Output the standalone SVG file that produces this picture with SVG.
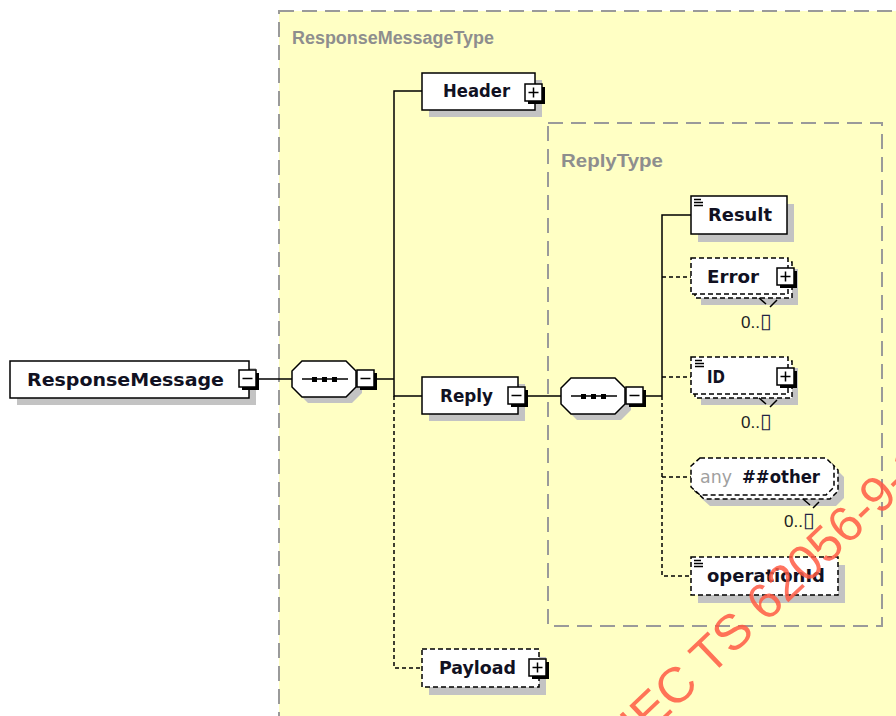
<svg xmlns="http://www.w3.org/2000/svg" xmlns:xlink="http://www.w3.org/1999/xlink" width="896" height="716" viewBox="0 0 896 716">
  <style>
    .box { fill: #ffffff; stroke: #000000; stroke-width: 1.5; }
    .opt { fill: #ffffff; stroke: #000000; stroke-width: 1.5; stroke-dasharray: 5 3; }
    .shadow { fill: #c3c3c3; }
    .conn { fill: none; stroke: #000000; stroke-width: 1.5; }
    .dash { stroke-dasharray: 4 3; }
    .group { fill: #ffffc4; stroke: #9a9a9a; stroke-width: 2; stroke-dasharray: 15 8; }
    .title { font-family: "Liberation Sans", Arial, sans-serif; font-weight: bold; font-size: 18px; fill: #8e8e8e; }
    .lbl { font-family: "DejaVu Sans", Verdana, sans-serif; font-weight: bold; font-size: 17px; fill: #111122; }
    .any { font-family: "DejaVu Sans", Verdana, sans-serif; font-size: 17px; fill: #a0a0a0; }
    .occ { font-family: "Liberation Sans", Arial, sans-serif; font-size: 17px; fill: #222222; }
    .tofu { font-family: "DejaVu Sans", sans-serif; font-size: 21px; fill: #222244; }
    .icon { stroke: #000000; stroke-width: 1.4; }
    .mark { font-family: "Liberation Sans", Arial, sans-serif; font-size: 50px; fill: #ff5a44; fill-opacity: 0.85; }
  </style>
  <defs>
    <g id="btn-minus">
      <rect x="3" y="3" width="17" height="17" fill="#000000"/>
      <rect x="0" y="0" width="17" height="17" fill="#ffffff" stroke="#000000" stroke-width="1.5"/>
      <path d="M3.5 8.5H13.5" stroke="#000000" stroke-width="1.5"/>
    </g>
    <g id="btn-plus">
      <rect x="3" y="3" width="17" height="17" fill="#000000"/>
      <rect x="0" y="0" width="17" height="17" fill="#ffffff" stroke="#000000" stroke-width="1.5"/>
      <path d="M3.5 8.5H13.5M8.5 3.5V13.5" stroke="#000000" stroke-width="1.5"/>
    </g>
    <g id="simple-icon">
      <path d="M0 0.5H7M0 3.5H9M0 6.5H9" class="icon"/>
    </g>
  </defs>

  <rect width="896" height="716" fill="#ffffff"/>

  <!-- complex type frames -->
  <g id="ResponseMessageType">
    <rect x="279" y="11" width="640" height="730" class="group"/>
    <text x="292" y="44" class="title" textLength="202" lengthAdjust="spacingAndGlyphs">ResponseMessageType</text>
  </g>
  <g id="ReplyType">
    <rect x="548" y="123" width="334" height="503" class="group"/>
    <text x="561" y="167" class="title" textLength="102" lengthAdjust="spacingAndGlyphs">ReplyType</text>
  </g>

  <!-- connectors -->
  <g id="connectors">
    <path class="conn" d="M259 379H292"/>
    <path class="conn" d="M377 379H394"/>
    <path class="conn" d="M394 379V91H422M394 379V396H422"/>
    <path class="conn dash" d="M394 396V668H422"/>
    <path class="conn" d="M528 396H561"/>
    <path class="conn" d="M646 396H662"/>
    <path class="conn" d="M662 396V215H691"/>
    <path class="conn dash" d="M662 277H691"/>
    <path class="conn dash" d="M662 377H691"/>
    <path class="conn dash" d="M662 396V576H691"/>
    <path class="conn dash" d="M662 477H691"/>
  </g>

  <!-- root element -->
  <g id="ResponseMessage">
    <rect x="17" y="368" width="239" height="37" class="shadow"/>
    <rect x="10" y="361" width="239" height="37" class="box"/>
    <text x="27" y="386" class="lbl" font-size="18" textLength="197" lengthAdjust="spacingAndGlyphs">ResponseMessage</text>
    <use xlink:href="#btn-minus" x="239" y="370"/>
  </g>

  <!-- sequence compositor of ResponseMessageType -->
  <g id="seq-ResponseMessageType">
    <path d="M308 367H352L362 377V393L352 403H308L298 393V377Z" class="shadow"/>
    <path d="M302 361H346L356 371V387L346 397H302L292 387V371Z" class="box"/>
    <path d="M302 379H348" stroke="#000000" stroke-width="1.5"/>
    <rect x="312" y="377" width="5" height="5" fill="#000000"/>
    <rect x="322" y="377" width="5" height="5" fill="#000000"/>
    <rect x="332" y="377" width="5" height="5" fill="#000000"/>
    <use xlink:href="#btn-minus" x="357" y="370"/>
  </g>

  <g id="Header">
    <rect x="429" y="80" width="113" height="37" class="shadow"/>
    <rect x="422" y="73" width="113" height="37" class="box"/>
    <text x="443" y="97" class="lbl" textLength="67" lengthAdjust="spacingAndGlyphs">Header</text>
    <use xlink:href="#btn-plus" x="525" y="84"/>
  </g>

  <g id="Reply">
    <rect x="429" y="384" width="96" height="37" class="shadow"/>
    <rect x="422" y="377" width="96" height="37" class="box"/>
    <text x="440" y="402" class="lbl" textLength="53" lengthAdjust="spacingAndGlyphs">Reply</text>
    <use xlink:href="#btn-minus" x="508" y="387"/>
  </g>

  <g id="Payload">
    <rect x="429" y="657" width="117" height="38" class="shadow"/>
    <rect x="422" y="649" width="117" height="38" class="opt"/>
    <text x="439" y="674" class="lbl" textLength="77" lengthAdjust="spacingAndGlyphs">Payload</text>
    <use xlink:href="#btn-plus" x="529" y="659"/>
  </g>

  <!-- sequence compositor of ReplyType -->
  <g id="seq-ReplyType">
    <path d="M577 384H621L631 394V410L621 420H577L567 410V394Z" class="shadow"/>
    <path d="M571 378H615L625 388V404L615 414H571L561 404V388Z" class="box"/>
    <path d="M571 396H617" stroke="#000000" stroke-width="1.5"/>
    <rect x="581" y="394" width="5" height="5" fill="#000000"/>
    <rect x="591" y="394" width="5" height="5" fill="#000000"/>
    <rect x="601" y="394" width="5" height="5" fill="#000000"/>
    <use xlink:href="#btn-minus" x="626" y="387"/>
  </g>

  <g id="Result">
    <rect x="698" y="204" width="96" height="38" class="shadow"/>
    <rect x="691" y="196" width="96" height="38" class="box"/>
    <use xlink:href="#simple-icon" x="694" y="199"/>
    <text x="708" y="221" class="lbl" textLength="64" lengthAdjust="spacingAndGlyphs">Result</text>
  </g>

  <g id="Error">
    <rect x="701" y="269" width="97" height="36" class="shadow"/>
    <rect x="695" y="262" width="97" height="36" class="opt"/>
    <rect x="691" y="258" width="97" height="36" class="opt"/>
    <path d="M759 298L766 304M770 307L777 300" class="conn" stroke-width="1"/>
    <text x="707" y="283" class="lbl" textLength="52" lengthAdjust="spacingAndGlyphs">Error</text>
    <use xlink:href="#btn-plus" x="777" y="268"/>
    <text x="741" y="328" class="occ">0..<tspan class="tofu">▯</tspan></text>
  </g>

  <g id="ID">
    <rect x="701" y="368" width="97" height="37" class="shadow"/>
    <rect x="695" y="361" width="97" height="37" class="opt"/>
    <rect x="691" y="357" width="97" height="37" class="opt"/>
    <path d="M759 398L766 404M770 407L777 400" class="conn" stroke-width="1"/>
    <use xlink:href="#simple-icon" x="695" y="360"/>
    <text x="707" y="383" class="lbl" textLength="18" lengthAdjust="spacingAndGlyphs">ID</text>
    <use xlink:href="#btn-plus" x="777" y="368"/>
    <text x="741" y="428" class="occ">0..<tspan class="tofu">▯</tspan></text>
  </g>

  <g id="any-other">
    <path d="M710 469H836L844 477V498L836 506H710L701 498V477Z" class="shadow"/>
    <path d="M704 462H830L838 470V491L830 499H704L695 491V470Z" class="opt"/>
    <path d="M700 458H826L834 466V487L826 495H700L691 487V466Z" class="opt"/>
    <path d="M803 499L810 505M813 508L819 502" class="conn" stroke-width="1"/>
    <text x="700" y="483" class="any" textLength="32" lengthAdjust="spacingAndGlyphs">any</text>
    <text x="742" y="483" class="lbl" textLength="78" lengthAdjust="spacingAndGlyphs">##other</text>
    <text x="784" y="527" class="occ">0..<tspan class="tofu">▯</tspan></text>
  </g>

  <g id="operationId">
    <rect x="698" y="565" width="147" height="38" class="shadow"/>
    <rect x="691" y="557" width="147" height="38" class="opt"/>
    <use xlink:href="#simple-icon" x="694" y="560"/>
    <text x="707" y="582" class="lbl" textLength="118" lengthAdjust="spacingAndGlyphs">operationId</text>
  </g>

  <!-- document stamp -->
  <text class="mark" transform="translate(640 743) rotate(-43.5)">IEC TS 62056-9-1</text>
</svg>
